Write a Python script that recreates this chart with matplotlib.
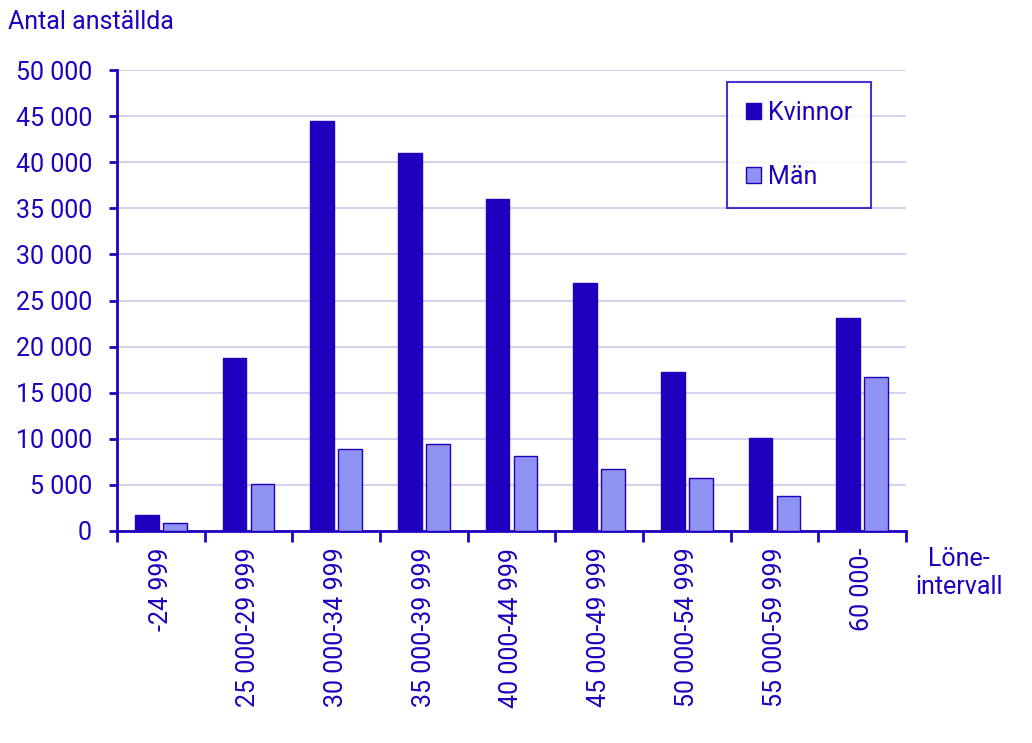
import matplotlib.pyplot as plt
import numpy as np

plt.rcParams['font.family'] = ['Roboto', 'DejaVu Sans']

categories = ['-24 999', '25 000-29 999', '30 000-34 999', '35 000-39 999',
              '40 000-44 999', '45 000-49 999', '50 000-54 999', '55 000-59 999',
              '60 000-']
kvinnor = [1700, 18800, 44500, 41000, 36000, 26900, 17250, 10100, 23100]
man = [900, 5100, 8900, 9450, 8150, 6750, 5750, 3800, 16700]

dark = '#1F00BF'
light = '#8F93F2'
grid = '#D3D3EE'

fig = plt.figure(figsize=(10.32, 7.43), dpi=100)
ax = fig.add_axes([117/1032, 1-531/743, 789/1032, 461/743])

x = np.arange(len(categories))
w = 0.27
ax.bar(x - 0.16, kvinnor, w, color=dark, edgecolor=dark, linewidth=1, label='Kvinnor', zorder=3)
ax.bar(x + 0.16, man, w, color=light, edgecolor=dark, linewidth=1, label='Män', zorder=3)

ax.set_xlim(-0.5, len(categories) - 0.5)
ax.set_ylim(0, 50000)
ax.set_yticks(np.arange(0, 50001, 5000))
ax.set_yticklabels([f'{v:,}'.replace(',', ' ') for v in range(0, 50001, 5000)],
                   fontsize=18, color=dark)
ax.set_xticks(np.arange(-0.5, len(categories)), minor=False)
ax.set_xticklabels([])
ax.set_xticks(x, minor=True)
ax.set_xticklabels(categories, minor=True, rotation=90, fontsize=18, color=dark)
ax.tick_params(axis='x', which='minor', length=0, pad=12)
ax.tick_params(axis='x', which='major', length=8, width=2, color=dark)
ax.tick_params(axis='y', length=6, width=2, color=dark, pad=12)

for s in ['top', 'right']:
    ax.spines[s].set_visible(False)
for s in ['left', 'bottom']:
    ax.spines[s].set_color(dark)
    ax.spines[s].set_linewidth(2)
ax.yaxis.grid(True, color=grid, linewidth=1.5, zorder=0)
ax.set_axisbelow(True)

leg = ax.legend(loc='upper left', bbox_to_anchor=(610/789, 1-12/461), fontsize=18,
                frameon=True, fancybox=False, handlelength=0.6, handleheight=0.6,
                handletextpad=0.3, labelspacing=1.6, borderpad=0.75, borderaxespad=0,
                labelcolor=dark)
leg.get_frame().set_edgecolor(dark)
leg.get_frame().set_linewidth(1.5)

fig.text(8/1032, 1-22/743, 'Antal anställda', fontsize=18, color=dark, va='center', ha='left')
fig.text(959/1032, 1-573/743, 'Löne-\nintervall', fontsize=18, color=dark, va='center',
         ha='center', linespacing=1.25)

fig.savefig('out.png', dpi=100)
